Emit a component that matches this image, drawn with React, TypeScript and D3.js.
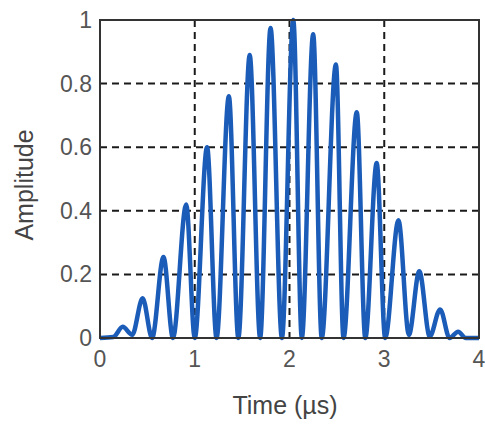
import React, { useEffect, useRef } from "react";
import * as d3 from "d3";

// lobe peaks and troughs of the pulse (time in µs, amplitude)
const times = [
  0, 0.14, 0.24, 0.34, 0.45, 0.55, 0.67, 0.77, 0.91, 1.0, 1.13, 1.23, 1.36, 1.46,
  1.58, 1.69, 1.8, 1.92, 2.04, 2.13, 2.25, 2.34, 2.49, 2.57, 2.71, 2.8, 2.92, 3.01,
  3.15, 3.26, 3.37, 3.48, 3.59, 3.69, 3.78, 3.86, 4.0,
];
const amps = [
  0, 0.003, 0.035, 0.01, 0.125, 0.0, 0.255, 0.0, 0.42, 0.0, 0.6, 0.0, 0.76, 0.0,
  0.89, 0.0, 0.975, 0.0, 1.0, 0.0, 0.955, 0.0, 0.86, 0.0, 0.71, 0.0, 0.55, 0.0,
  0.37, 0.01, 0.21, 0.005, 0.09, 0.0, 0.02, 0.0, 0.0,
];
const xTicks = [0, 1, 2, 3, 4];
const yTicks = [0, 0.2, 0.4, 0.6, 0.8, 1];

function App() {
  const ref = useRef<SVGSVGElement>(null);

  useEffect(() => {
    const svg = d3.select(ref.current);
    svg.selectAll("*").remove();

    const left = 100, right = 479, top = 20, bottom = 338;
    const x = d3.scaleLinear().domain([0, 4]).range([left, right]);
    const y = d3.scaleLinear().domain([0, 1]).range([bottom, top]);

    const g = svg.append("g");

    // grid
    g.selectAll(".vgrid").data(xTicks.slice(1, -1)).join("line")
      .attr("x1", d => x(d)).attr("x2", d => x(d))
      .attr("y1", top).attr("y2", bottom)
      .attr("stroke", "#1a1a1a").attr("stroke-width", 2)
      .attr("stroke-dasharray", "7,5");
    g.selectAll(".hgrid").data(yTicks.slice(1, -1)).join("line")
      .attr("x1", left).attr("x2", right)
      .attr("y1", d => y(d)).attr("y2", d => y(d))
      .attr("stroke", "#1a1a1a").attr("stroke-width", 2)
      .attr("stroke-dasharray", "7,5");

    // signal
    const pts = times.map((t, i) => [t, amps[i]] as [number, number]);
    const line = d3.line<[number, number]>()
      .x(d => x(d[0])).y(d => y(d[1]))
      .curve(d3.curveMonotoneX);
    g.append("path").attr("d", line(pts) || "")
      .attr("fill", "none").attr("stroke", "#1a5cb8")
      .attr("stroke-width", 4.5).attr("stroke-linejoin", "round");

    // frame
    g.append("rect").attr("x", left).attr("y", top)
      .attr("width", right - left).attr("height", bottom - top)
      .attr("fill", "none").attr("stroke", "#333").attr("stroke-width", 2);

    const font = "'Liberation Sans', Arial, sans-serif";
    g.selectAll(".xt").data(xTicks).join("text")
      .attr("x", d => x(d)).attr("y", 367)
      .attr("text-anchor", "middle").attr("font-family", font)
      .attr("font-size", 23).attr("fill", "#555")
      .text(d => String(d));
    g.selectAll(".yt").data(yTicks).join("text")
      .attr("x", 92).attr("y", d => y(d) + 8)
      .attr("text-anchor", "end").attr("font-family", font)
      .attr("font-size", 23).attr("fill", "#555")
      .text(d => String(d));

    g.append("text").attr("x", 285).attr("y", 414)
      .attr("text-anchor", "middle").attr("font-family", font)
      .attr("font-size", 25).attr("fill", "#444")
      .text("Time (µs)");
    g.append("text")
      .attr("transform", "translate(33,185) rotate(-90)")
      .attr("text-anchor", "middle").attr("font-family", font)
      .attr("font-size", 25).attr("fill", "#444")
      .text("Amplitude");
  }, []);

  return (
    <svg ref={ref} width={485} height={425}
      style={{ position: "absolute", left: 0, top: 0, background: "#fff" }} />
  );
}

export default App;
